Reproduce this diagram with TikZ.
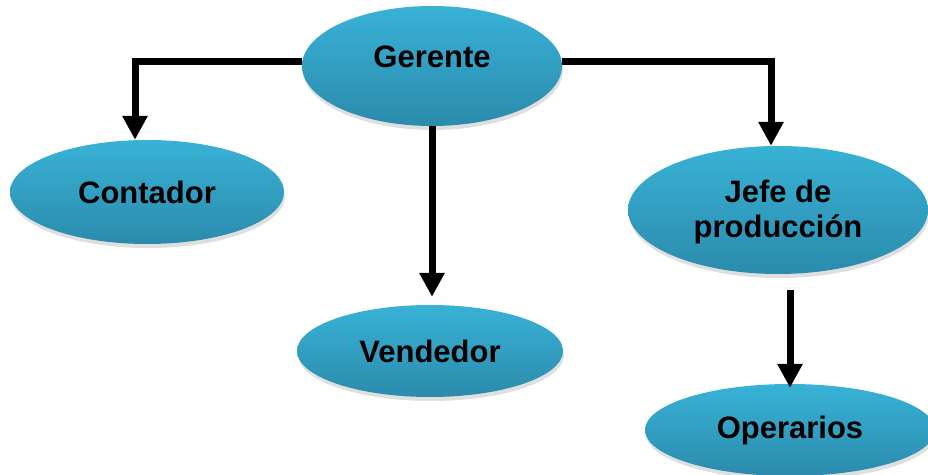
\documentclass[tikz,border=0pt]{standalone}
\usepackage{fontspec}
\setmainfont{Liberation Sans}
\usetikzlibrary{shapes.geometric,arrows.meta,shadows}
\definecolor{azularriba}{RGB}{56,178,214}
\definecolor{azulabajo}{RGB}{43,139,172}
\begin{document}
\begin{tikzpicture}[x=1pt,y=1pt,
  puesto/.style={ellipse, inner sep=0pt, top color=azularriba, bottom color=azulabajo,
    draw=none, align=center, font=\fontsize{31}{35}\selectfont\bfseries,
    drop shadow={opacity=0.25, shadow xshift=1pt, shadow yshift=-4pt}},
  flecha/.style={line width=7pt, -{Triangle[length=24pt,width=24pt]}}]
\useasboundingbox (0,0) rectangle (928,474);
\node[puesto, minimum width=260pt, minimum height=120pt, text depth=18pt] (ger) at (432,408){Gerente};
\node[puesto, minimum width=274pt, minimum height=104pt] (con) at (147,282){Contador};
\node[puesto, minimum width=266pt, minimum height=92pt] (ven) at (430,123){Vendedor};
\node[puesto, minimum width=300pt, minimum height=128pt, text depth=2pt] (jef) at (778,264){Jefe de\\producción};
\node[puesto, minimum width=290pt, minimum height=92pt] (ope) at (790,44){Operarios};
\draw[flecha]([yshift=4pt]ger.west) -| ([xshift=-12pt]con.north);
\draw[flecha]([yshift=4pt]ger.east) -| ([xshift=-7pt]jef.north);
\draw[flecha](ger.south) -- ([yshift=8pt]ven.north -| ger.south);
\draw[flecha]([yshift=-16pt]jef.south -| ope.north) -- ([yshift=-4pt]ope.north);
\end{tikzpicture}
\end{document}
